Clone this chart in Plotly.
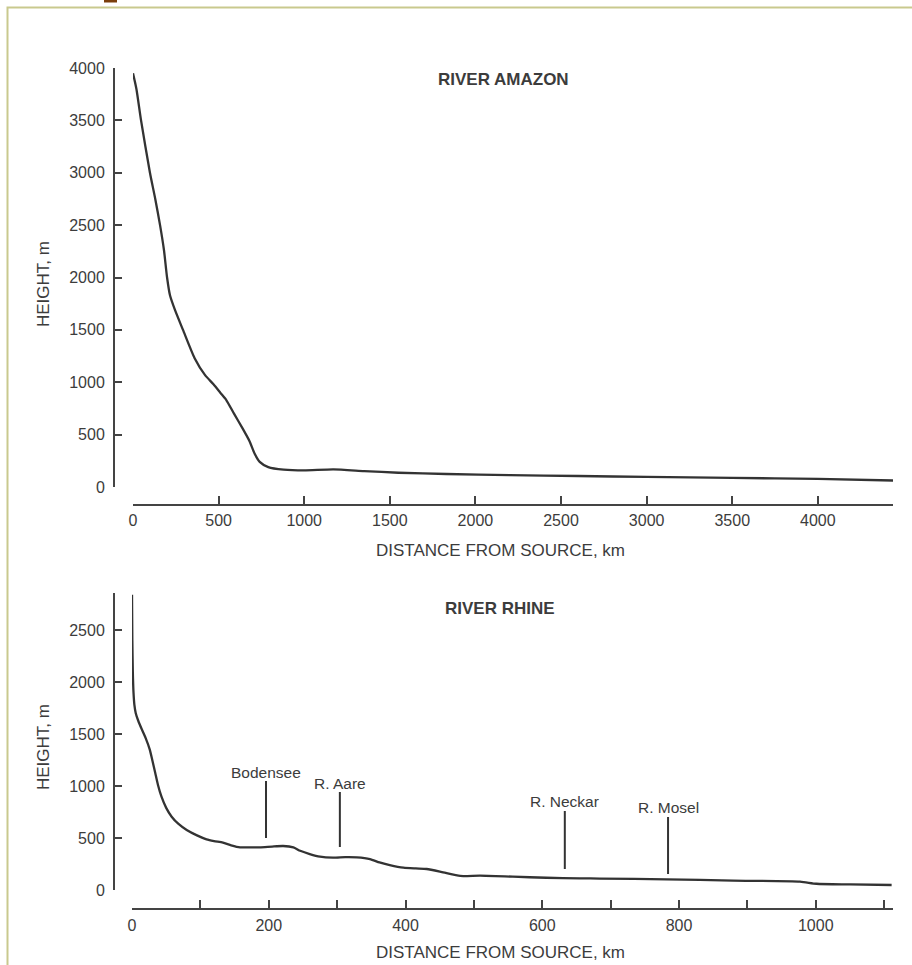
import plotly.graph_objects as go

# ---------------- data ----------------
amazon_km = [0, 20, 47, 99, 130, 158, 181, 199, 216, 245, 292, 360, 420, 470, 510, 545,
             590, 640, 680, 710, 740, 790, 880, 1000, 1170, 1350, 1550, 1830, 2200, 2600,
             3000, 3500, 4000, 4440]
amazon_m = [3950, 3800, 3500, 3000, 2750, 2500, 2260, 2000, 1830, 1690, 1500, 1230, 1070,
            980, 900, 830, 700, 560, 440, 320, 240, 190, 165, 158, 168, 152, 136, 124, 114,
            105, 96, 87, 77, 62]

rhine_km = [0, 0.5, 1.2, 2.2, 3.5, 5.5, 9, 14, 20, 26, 30, 34, 38, 43, 50, 58, 68, 80, 95,
            109, 120, 133, 145, 158, 172, 187, 205, 221, 236, 246, 260, 275, 294, 312, 329,
            348, 362, 377, 397, 415, 431, 455, 480, 509, 557, 606, 655, 684, 782, 879, 977,
            1001, 1050, 1111]
rhine_m = [2840, 2400, 2100, 1900, 1780, 1700, 1630, 1550, 1460, 1350, 1240, 1125, 1010, 900,
           790, 705, 635, 577, 525, 487, 470, 455, 430, 410, 410, 410, 418, 423, 410, 377,
           345, 320, 311, 316, 314, 298, 265, 240, 215, 207, 202, 170, 135, 138, 128, 118,
           112, 110, 103, 90, 80, 60, 54, 48]

amazon_xticks = [0, 500, 1000, 1500, 2000, 2500, 3000, 3500, 4000]
amazon_yticks = [0, 500, 1000, 1500, 2000, 2500, 3000, 3500, 4000]
rhine_xticks = [0, 100, 200, 300, 400, 500, 600, 700, 800, 900, 1000, 1100]
rhine_xlabels = ["0", "", "200", "", "400", "", "600", "", "800", "", "1000", ""]
rhine_yticks = [0, 500, 1000, 1500, 2000, 2500]

labels = ["Bodensee", "R. Aare", "R. Neckar", "R. Mosel"]
label_km = [196, 304, 633, 784]
label_foot_m = [500, 413, 202, 154]

titles = ["RIVER AMAZON", "RIVER RHINE"]
x_title = "DISTANCE FROM SOURCE, km"
y_title = "HEIGHT, m"

# ---------------- layout helpers ----------------
W, H = 912, 965
def px(x):
    return x / W
def py(y):
    return 1 - y / H

INK = "#333333"
TXT = "#3c3c3c"
FONT = "Liberation Sans, Arial, sans-serif"

fig = go.Figure()
fig.add_trace(go.Scatter(x=amazon_km, y=amazon_m, mode="lines", xaxis="x", yaxis="y",
                         line=dict(color=INK, width=2.3, shape="spline", smoothing=0.6),
                         showlegend=False, hoverinfo="skip"))
fig.add_trace(go.Scatter(x=rhine_km, y=rhine_m, mode="lines", xaxis="x2", yaxis="y2",
                         line=dict(color=INK, width=2.3, shape="spline", smoothing=0.6),
                         showlegend=False, hoverinfo="skip"))

axis_common = dict(showgrid=False, zeroline=False, showline=True, linecolor="#444444",
                   linewidth=2, ticks="inside", tickwidth=2, tickcolor="#444444",
                   automargin=False,
                   tickfont=dict(family=FONT, size=16, color=TXT), fixedrange=True)

fig.update_layout(
    width=W, height=H, margin=dict(l=0, r=0, t=0, b=0, autoexpand=False),
    paper_bgcolor="white", plot_bgcolor="white", showlegend=False,
    xaxis=dict(domain=[px(133), px(893)], range=[0, 4439], anchor="free", position=py(505),
               tickmode="array", tickvals=amazon_xticks,
               ticktext=[str(v) for v in amazon_xticks], ticklen=8,
               ticklabelstandoff=1, **axis_common),
    yaxis=dict(domain=[py(487), py(68)], range=[0, 4000], anchor="free", position=px(114),
               tickmode="array", tickvals=amazon_yticks,
               ticktext=[str(v) for v in amazon_yticks], ticklen=7,
               ticklabelstandoff=5, **axis_common),
    xaxis2=dict(domain=[px(132), px(893)], range=[0, 1113], anchor="free", position=py(909),
                tickmode="array", tickvals=rhine_xticks, ticktext=rhine_xlabels, ticklen=8,
                ticklabelstandoff=2, **axis_common),
    yaxis2=dict(domain=[py(890), py(593)], range=[0, 2856], anchor="free", position=px(114),
                tickmode="array", tickvals=rhine_yticks,
                ticktext=[str(v) for v in rhine_yticks], ticklen=7,
                ticklabelstandoff=5, **axis_common),
)

ann = []
center = dict(xref="paper", yref="paper", xanchor="center", yanchor="middle", showarrow=False)
# chart titles
ann.append(dict(text=titles[0], x=px(503), y=py(79),
                font=dict(family=FONT, size=17, color=TXT, weight="bold"), **center))
ann.append(dict(text=titles[1], x=px(500), y=py(608),
                font=dict(family=FONT, size=17, color=TXT, weight="bold"), **center))
# axis titles
for yc in (550, 952):
    ann.append(dict(text=x_title, x=px(500), y=py(yc),
                    font=dict(family=FONT, size=17, color=TXT), **center))
for yc in (284, 747):
    ann.append(dict(text=y_title, x=px(43), y=py(yc), textangle=-90,
                    font=dict(family=FONT, size=17, color=TXT), **center))
# Rhine tributary / lake labels
label_ay = [-66, -64, -67, -66]
for name, km, foot, ay in zip(labels, label_km, label_foot_m, label_ay):
    ann.append(dict(text=name, x=km, y=foot, xref="x2", yref="y2", showarrow=True,
                    arrowhead=0, arrowwidth=2, arrowcolor=INK, ax=0, ay=ay,
                    borderpad=0, font=dict(family=FONT, size=15.5, color=TXT)))
fig.update_layout(annotations=ann)

# page frame (scanned page border) and clipped heading fragment
fig.add_shape(type="rect", xref="paper", yref="paper", x0=px(7.5), x1=1.02, y0=-0.02,
              y1=py(7.5), line=dict(color="#c9c98e", width=2), fillcolor="rgba(0,0,0,0)")
fig.add_shape(type="rect", xref="paper", yref="paper", x0=px(104), x1=px(117), y0=py(2.5),
              y1=1.01, line=dict(width=0), fillcolor="#7a3e0c")

fig.write_html("out.html", config={"displayModeBar": False},
               post_script="document.body.style.margin='0px';"
                           "document.body.style.overflow='hidden';")
